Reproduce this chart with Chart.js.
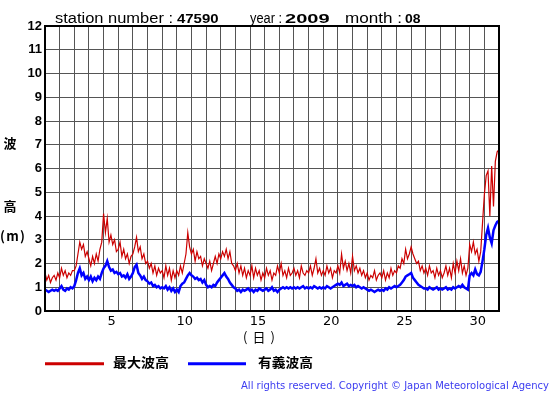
<!DOCTYPE html>
<html>
<head>
<meta charset="utf-8">
<script src="https://cdn.jsdelivr.net/npm/chart.js@4.4.1/dist/chart.umd.min.js"></script>
<style>
  html, body { margin: 0; padding: 0; background: #fff; }
  #wrap { width: 555px; height: 395px; }
</style>
</head>
<body>
<div id="wrap"><canvas id="waveChart" width="555" height="395"></canvas></div>
<script>
// station 47590, 2009-08 : 3-hourly values (8 per day)
const stepsPerDay = 8;

// 最大波高 (m)
const maxWave = [
  1.6, 1.3, 1.5, 1.2, 1.4, 1.5, 1.3, 1.6,
  1.4, 1.8, 1.5, 1.7, 1.4, 1.6, 1.5, 1.7,
  1.7, 1.9, 2.4, 2.9, 2.6, 2.8, 2.3, 2.5,
  2.2, 1.9, 2.3, 2.0, 2.4, 2.1, 2.6, 2.9,
  4.1, 3.3, 3.9, 2.9, 3.2, 2.8, 3.0, 2.5,
  2.6, 2.9, 2.3, 2.6, 2.2, 2.4, 2.0, 2.3,
  2.4, 2.7, 3.1, 2.5, 2.7, 2.2, 2.4, 2.0,
  2.1, 1.8, 2.0, 1.6, 1.9, 1.5, 1.8, 1.6,
  1.7, 1.4, 1.9, 1.5, 1.8, 1.3, 1.7, 1.4,
  1.7, 1.5, 1.9, 1.6, 2.0, 2.4, 3.3, 2.7,
  2.4, 2.6, 2.1, 2.5, 2.2, 2.3, 1.9, 2.2,
  2.0, 1.8, 2.1, 1.7, 2.0, 2.3, 2.0, 2.4,
  2.2, 2.5, 2.3, 2.6, 2.2, 2.5, 2.0, 1.9,
  1.7, 2.0, 1.6, 1.9, 1.5, 1.8, 1.4, 1.7,
  1.5, 1.9, 1.4, 1.8, 1.5, 1.7, 1.3, 1.6,
  1.4, 1.8, 1.5, 1.7, 1.3, 1.6, 1.5, 1.9,
  1.6, 2.0, 1.5, 1.7, 1.4, 1.8, 1.5, 1.6,
  1.8, 1.5, 1.7, 1.4, 1.9, 1.6, 1.5, 1.7,
  1.6, 1.9, 1.5, 1.8, 2.2, 1.6, 1.8, 1.5,
  1.7, 1.5, 1.9, 1.6, 1.8, 1.4, 1.7, 1.6,
  1.9, 1.6, 2.4, 1.8, 2.1, 1.7, 2.0, 1.6,
  2.3, 1.7, 1.9, 1.6, 1.8, 1.5, 1.7, 1.4,
  1.6, 1.3, 1.5, 1.4, 1.7, 1.3, 1.5, 1.6,
  1.4, 1.7, 1.3, 1.6, 1.4, 1.8, 1.5, 1.7,
  1.6, 1.9, 1.8, 2.2, 2.0, 2.6, 2.2, 2.4,
  2.7, 2.4, 2.2, 2.0, 2.1, 1.7, 1.9, 1.6,
  1.8, 1.5, 1.9, 1.6, 1.7, 1.4, 1.8, 1.5,
  1.7, 1.4, 1.6, 1.9, 1.5, 1.8, 1.4, 2.0,
  1.6, 2.1, 1.7, 2.2, 1.6, 1.9, 1.5, 1.8,
  2.8, 2.5, 2.9, 2.4, 2.6, 2.1, 2.5, 3.7,
  4.9, 5.7, 5.9, 4.0, 6.1, 4.4, 6.3, 6.7,
  6.8
];

// 有義波高 (m)
const sigWave = [
  0.9, 0.85, 0.8, 0.85, 0.9, 0.85, 0.9, 0.85,
  0.95, 1.05, 0.9, 0.85, 0.95, 0.9, 1.0, 0.95,
  1.05, 1.3, 1.6, 1.8, 1.5, 1.6, 1.35, 1.45,
  1.3, 1.45, 1.25, 1.4, 1.3, 1.45, 1.35, 1.6,
  1.8, 1.9, 2.1, 1.85, 1.7, 1.75, 1.6, 1.65,
  1.55, 1.6, 1.45, 1.5, 1.4, 1.55, 1.35, 1.45,
  1.6, 1.85, 1.95, 1.6, 1.5, 1.35, 1.45, 1.3,
  1.25, 1.15, 1.2, 1.05, 1.1, 1.0, 1.05, 0.95,
  1.0, 0.95, 1.05, 0.9, 1.0, 0.85, 0.95, 0.8,
  0.9, 0.8, 1.05, 1.15, 1.2, 1.35, 1.5, 1.6,
  1.5, 1.45, 1.35, 1.4, 1.3, 1.35, 1.2, 1.3,
  1.1, 1.0, 1.05, 1.0, 1.1, 1.05, 1.2, 1.3,
  1.4, 1.5, 1.6, 1.45, 1.35, 1.2, 1.1, 1.0,
  0.95, 0.85, 0.9, 0.8, 0.9, 0.85, 0.9, 0.95,
  0.85, 0.9, 0.8, 0.9, 0.85, 0.95, 0.9, 0.85,
  0.9, 0.95, 0.85, 0.9, 1.0, 0.85, 0.9, 0.8,
  0.9, 0.95, 1.0, 0.95, 1.0, 0.95, 1.0, 0.95,
  1.0, 0.95, 1.0, 0.95, 1.0, 1.05, 0.95, 1.0,
  0.95, 1.0, 0.95, 1.05, 1.0, 0.95, 1.0, 0.95,
  1.0, 0.95, 1.05, 1.0, 0.95, 1.0, 1.05, 1.1,
  1.15, 1.1, 1.2, 1.05, 1.1, 1.15, 1.05, 1.1,
  1.05, 1.1, 1.0, 1.05, 1.0, 0.95, 1.0, 0.95,
  0.9, 0.85, 0.9, 0.85, 0.8, 0.85, 0.9, 0.85,
  0.9, 0.85, 0.95, 0.9, 1.0, 0.95, 1.0, 1.05,
  1.0, 1.05, 1.1, 1.2, 1.3, 1.45, 1.5, 1.55,
  1.6, 1.4, 1.3, 1.2, 1.1, 1.05, 1.0, 0.95,
  0.95, 0.9, 1.0, 0.95, 0.9, 0.95, 1.0, 0.9,
  0.95, 0.9, 0.95, 1.0, 0.9, 0.95, 0.9, 1.0,
  0.95, 1.0, 1.05, 1.0, 1.1, 1.0, 0.95, 0.9,
  1.5, 1.6, 1.5, 1.75, 1.55, 1.5, 1.65, 2.1,
  2.6, 3.2, 3.5, 3.1, 2.85, 3.4, 3.6, 3.75,
  3.8
];

const xLabelDays = [5, 10, 15, 20, 25, 30];
const yMin = 0, yMax = 12;
const seriesNames = ['最大波高', '有義波高'];
const seriesColors = ['#cc0000', '#0000ff'];

function toPoints(values) {
  return values.map((v, i) => ({ x: 1 + i / stepsPerDay, y: v }));
}

function fitText(ctx, text, x, baseY, width, font, color) {
  ctx.save();
  ctx.font = font;
  ctx.fillStyle = color;
  ctx.textAlign = 'left';
  ctx.textBaseline = 'alphabetic';
  const w = ctx.measureText(text).width;
  ctx.translate(x, baseY);
  ctx.scale(width / w, 1);
  ctx.fillText(text, 0, 0);
  ctx.restore();
}

function spacedText(ctx, text, x, baseY, width, font, color) {
  ctx.save();
  ctx.font = font;
  ctx.fillStyle = color;
  ctx.textAlign = 'left';
  ctx.textBaseline = 'alphabetic';
  ctx.letterSpacing = '0px';
  const w = ctx.measureText(text).width;
  const n = [...text].length;
  ctx.letterSpacing = ((width - w) / (n - 1)) + 'px';
  ctx.fillText(text, x, baseY);
  ctx.restore();
}

const cjk = '"Noto Sans CJK JP"';
const latin = '"Liberation Sans"';

const decorPlugin = {
  id: 'decor',
  afterDraw(chart) {
    const ctx = chart.ctx;
    const a = chart.chartArea;
    ctx.save();
    ctx.strokeStyle = '#000';
    ctx.lineWidth = 2;
    ctx.strokeRect(a.left, a.top, a.right - a.left, a.bottom - a.top);
    ctx.restore();

    // header
    fitText(ctx, 'station number :', 55, 22.5, 118, '14px ' + latin, '#000');
    fitText(ctx, '47590', 177, 22.5, 41.5, 'bold 13px ' + latin, '#000');
    fitText(ctx, 'year :', 250, 22.5, 32, '14px ' + latin, '#000');
    fitText(ctx, '2009', 285, 22.5, 44.5, 'bold 13px ' + latin, '#000');
    fitText(ctx, 'month :', 345, 22.5, 57, '14px ' + latin, '#000');
    fitText(ctx, '08', 405, 22.5, 15.5, 'bold 13px ' + latin, '#000');

    // y axis title
    fitText(ctx, '波', 3.5, 148, 13, 'bold 13px ' + cjk, '#000');
    fitText(ctx, '高', 3.5, 211, 13, 'bold 13px ' + cjk, '#000');
    spacedText(ctx, '(m)', 0, 241, 25, 'bold 13px ' + cjk, '#000');

    // x axis title
    spacedText(ctx, '(日)', 243, 342, 32, '13px ' + cjk, '#000');

    // legend
    const legendLines = [[45, 104], [188, 246]];
    const legendText = [[113, 56], [258, 55]];
    seriesNames.forEach((name, i) => {
      ctx.save();
      ctx.strokeStyle = seriesColors[i];
      ctx.lineWidth = 3;
      ctx.beginPath();
      ctx.moveTo(legendLines[i][0], 363.7);
      ctx.lineTo(legendLines[i][1], 363.7);
      ctx.stroke();
      ctx.restore();
      fitText(ctx, name, legendText[i][0], 367, legendText[i][1], 'bold 13px ' + cjk, '#000');
    });

    spacedText(ctx, 'All rights reserved. Copyright © Japan Meteorological Agency',
      241, 389, 308, '10px "DejaVu Sans"', '#3c3cf0');
  }
};

const ctx = document.getElementById('waveChart').getContext('2d');
const chart = new Chart(ctx, {
  type: 'line',
  data: {
    datasets: [
      {
        label: seriesNames[1],
        data: toPoints(sigWave),
        borderColor: seriesColors[1],
        borderWidth: 2.5,
        pointRadius: 0,
        tension: 0
      },
      {
        label: seriesNames[0],
        data: toPoints(maxWave),
        borderColor: seriesColors[0],
        borderWidth: 1.2,
        pointRadius: 0,
        tension: 0
      }
    ]
  },
  options: {
    responsive: false,
    animation: false,
    events: [],
    layout: { padding: { top: 26, right: 56, bottom: 54, left: 0 } },
    plugins: {
      legend: { display: false },
      tooltip: { enabled: false },
      title: { display: false }
    },
    scales: {
      x: {
        type: 'linear',
        min: 1,
        max: 32,
        afterFit: scale => { scale.height = 30; },
        grid: { color: '#555', lineWidth: 1, drawTicks: false },
        border: { display: false },
        ticks: {
          stepSize: 1,
          autoSkip: false,
          maxRotation: 0,
          padding: 3,
          labelOffset: 8,
          color: '#000',
          font: { family: 'DejaVu Sans', size: 13 },
          callback: v => xLabelDays.includes(v) ? String(v) : ''
        }
      },
      y: {
        min: yMin,
        max: yMax,
        afterFit: scale => { scale.width = 45; },
        grid: { color: '#555', lineWidth: 1, drawTicks: false },
        border: { display: false },
        ticks: {
          stepSize: 1,
          padding: 3,
          color: '#000',
          font: { family: 'Liberation Sans', size: 13, weight: 'bold' }
        }
      }
    }
  },
  plugins: [decorPlugin]
});
</script>
</body>
</html>
